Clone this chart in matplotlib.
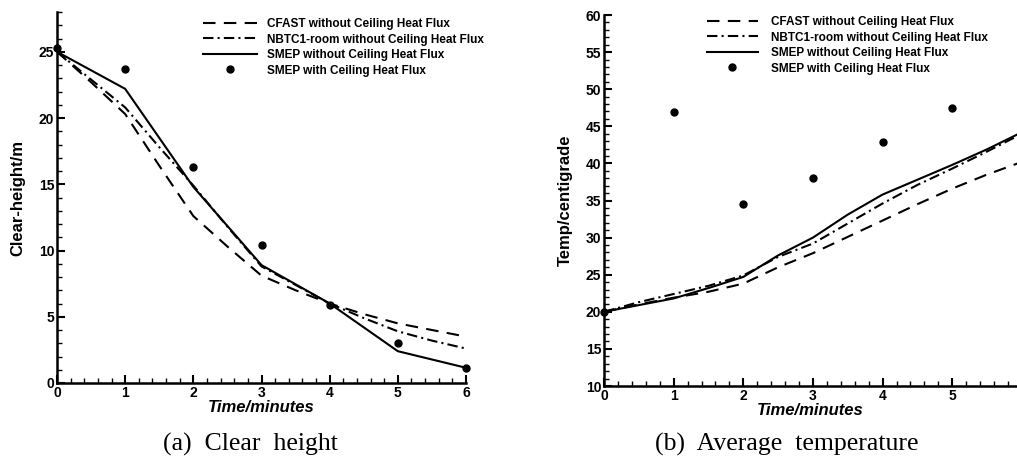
import matplotlib.pyplot as plt
from matplotlib.ticker import MultipleLocator

# (a) clear height vs time
t_a = [0, 0.5, 1, 1.5, 2, 2.5, 3, 3.5, 4, 4.5, 5, 5.5, 6]
cfast_a = [25.0, 22.7, 20.3, 16.4, 12.6, 10.3, 8.1, 7.0, 6.0, 5.2, 4.5, 4.0, 3.5]
nbtc_a = [25.0, 22.9, 20.8, 17.8, 14.9, 11.8, 8.8, 7.4, 6.0, 4.9, 3.9, 3.2, 2.6]
t_smep_a = [0, 1, 2, 3, 4, 5, 6]
smep_a = [25.0, 22.2, 14.8, 8.9, 6.0, 2.4, 1.15]
flux_a = [25.3, 23.7, 16.3, 10.4, 5.9, 3.0, 1.15]

# (b) average temperature vs time
t_b = [0, 0.5, 1, 1.5, 2, 2.5, 3, 3.5, 4, 4.5, 5, 5.5, 6]
cfast_b = [20.0, 21.0, 21.9, 22.7, 23.8, 26.0, 27.9, 30.1, 32.3, 34.5, 36.6, 38.5, 40.2]
nbtc_b = [20.0, 21.3, 22.4, 23.5, 24.9, 27.4, 29.2, 31.9, 34.6, 37.1, 39.3, 41.6, 44.0]
smep_b = [20.0, 20.9, 21.8, 23.2, 24.7, 27.6, 30.0, 33.1, 35.8, 37.8, 39.8, 41.9, 44.2]
t_flux_b = [0, 1, 2, 3, 4, 5]
flux_b = [20.0, 46.9, 34.5, 38.0, 42.9, 47.5]

labels = ['CFAST without Ceiling Heat Flux',
          'NBTC1-room without Ceiling Heat Flux',
          'SMEP without Ceiling Heat Flux',
          'SMEP with Ceiling Heat Flux']

plt.rcParams['font.family'] = 'Liberation Sans'
plt.rcParams['font.weight'] = 'bold'

fig = plt.figure(figsize=(10.17, 4.65), dpi=100)
W, H = 1017, 465

def make_axes(px_left, px_right, px_top, px_bottom):
    return fig.add_axes([px_left / W, 1 - px_bottom / H,
                         (px_right - px_left) / W, (px_bottom - px_top) / H])

def style(ax):
    for s in ['top', 'right']:
        ax.spines[s].set_visible(False)
    for s in ['left', 'bottom']:
        ax.spines[s].set_linewidth(1.8)
    ax.tick_params(which='major', direction='in', length=6, width=1.5,
                   labelsize=10, pad=2)
    ax.tick_params(which='minor', direction='in', length=3.5, width=1.0)
    for lab in ax.get_xticklabels() + ax.get_yticklabels():
        lab.set_fontweight('bold')

ls_dash = (0, (6, 4))
ls_dashdot = (0, (5, 2, 1, 2))

# ---- left panel
ax1 = make_axes(57, 466, 12, 383)
ax1.plot(t_a, cfast_a, color='k', lw=1.5, ls=ls_dash)
ax1.plot(t_a, nbtc_a, color='k', lw=1.5, ls=ls_dashdot)
ax1.plot(t_smep_a, smep_a, color='k', lw=1.5, ls='-')
ax1.plot(t_smep_a, flux_a, 'ko', ms=5, ls='none', clip_on=False)
ax1.set_xlim(0, 6)
ax1.set_ylim(0, 28)
ax1.xaxis.set_major_locator(MultipleLocator(1))
ax1.xaxis.set_minor_locator(MultipleLocator(0.2))
ax1.yaxis.set_major_locator(MultipleLocator(5))
ax1.yaxis.set_minor_locator(MultipleLocator(1))
style(ax1)
ax1.set_xlabel('Time/minutes', fontsize=12, fontweight='bold', style='italic', va='top')
ax1.xaxis.set_label_coords(0.5, -0.045)
ax1.set_ylabel('Clear-height/m', fontsize=12, fontweight='bold')
ax1.yaxis.set_label_coords(-0.078, 0.5)
fig.legend(ax1.lines, labels, loc='upper left', bbox_to_anchor=(203 / W, 1 - 18 / H),
           frameon=False, fontsize=8.5, handlelength=4.6, handletextpad=0.85,
           labelspacing=0.3, borderpad=0, borderaxespad=0,
           prop={'weight': 'bold', 'size': 8.5})

# ---- right panel
ax2 = make_axes(604, 1017, 15, 386)
ax2.plot(t_b, cfast_b, color='k', lw=1.5, ls=ls_dash)
ax2.plot(t_b, nbtc_b, color='k', lw=1.5, ls=ls_dashdot)
ax2.plot(t_b, smep_b, color='k', lw=1.5, ls='-')
ax2.plot(t_flux_b, flux_b, 'ko', ms=5, ls='none', clip_on=False)
ax2.set_xlim(0, 5.93)
ax2.set_ylim(10, 60)
ax2.xaxis.set_major_locator(MultipleLocator(1))
ax2.xaxis.set_minor_locator(MultipleLocator(0.2))
ax2.yaxis.set_major_locator(MultipleLocator(5))
ax2.yaxis.set_minor_locator(MultipleLocator(1))
style(ax2)
ax2.set_xlabel('Time/minutes', fontsize=12, fontweight='bold', style='italic', va='top')
ax2.xaxis.set_label_coords(0.5, -0.045)
ax2.set_ylabel('Temp/centigrade', fontsize=12, fontweight='bold')
ax2.yaxis.set_label_coords(-0.075, 0.5)
fig.legend(ax2.lines, labels, loc='upper left', bbox_to_anchor=(707 / W, 1 - 16 / H),
           frameon=False, handlelength=4.3, handletextpad=1.1,
           labelspacing=0.3, borderpad=0, borderaxespad=0,
           prop={'weight': 'bold', 'size': 8.5})

# captions
fig.text(250 / W, 1 - 451 / H, '(a)  Clear  height', family='Liberation Serif',
         fontweight='normal', fontsize=18.5, ha='center', va='baseline')
fig.text(787 / W, 1 - 451 / H, '(b)  Average  temperature', family='Liberation Serif',
         fontweight='normal', fontsize=18.5, ha='center', va='baseline')

fig.savefig('out.png', dpi=100)
